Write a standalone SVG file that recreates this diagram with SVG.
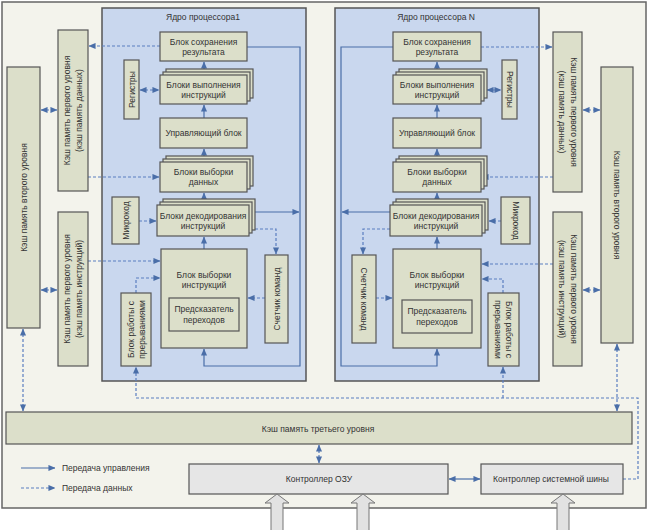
<svg xmlns="http://www.w3.org/2000/svg" width="650" height="530" viewBox="0 0 650 530">
<defs>
<marker id="a" viewBox="0 0 8 8" refX="7.5" refY="4" markerWidth="7" markerHeight="7" markerUnits="userSpaceOnUse" orient="auto-start-reverse"><path d="M0,0.5 L8,4 L0,7.5 z" fill="#4a6ea8"/></marker>
<style>
.blk{fill:#dcdfca;stroke:#555;stroke-width:1.2}
.gry{fill:#e6e6e6;stroke:#555;stroke-width:1.2}
.core{fill:#c9d7ee;stroke:#555;stroke-width:1.5}
.t{font-family:"Liberation Sans",Arial,sans-serif;font-size:8.5px;fill:#333;text-anchor:middle;dominant-baseline:central}
.l{text-anchor:start}
.s{stroke:#4a6ea8;stroke-width:1.2;fill:none}
.d{stroke:#5a7ec0;stroke-width:1.2;fill:none;stroke-dasharray:3 2}
.ba{fill:#e2e2e2;stroke:#777;stroke-width:1}
</style>
</defs>
<rect x="2" y="2" width="644" height="506" fill="#f3f3ec" stroke="#666" stroke-width="1.5"/>

<g id="core1">
<rect class="core" x="102" y="8" width="204" height="373"/>
<text class="t" x="203" y="17">Ядро процессора1</text>
</g>
<g id="coreN">
<rect class="core" x="335" y="8" width="204" height="373"/>
<text class="t" x="436" y="17">Ядро процессора N</text>
</g>

<g id="connectors">
<!-- core 1 solid -->
<path class="s" d="M204,249 V237" marker-end="url(#a)"/>
<path class="s" d="M204,199 V193" marker-end="url(#a)"/>
<path class="s" d="M204,156 V149" marker-end="url(#a)"/>
<path class="s" d="M204,118 V105" marker-end="url(#a)"/>
<path class="s" d="M204,69 V62" marker-end="url(#a)"/>
<path class="s" d="M247,47 H300 V366 H204 V349" marker-end="url(#a)"/>
<path class="s" d="M255,212 H299" marker-end="url(#a)"/>
<!-- core 1 dashed -->
<path class="d" d="M255,229 H276 V254" marker-end="url(#a)"/>
<path class="d" d="M265,298 H248" marker-end="url(#a)"/>
<path class="d" d="M139,221 H156" marker-end="url(#a)"/>
<path class="d" d="M140,90 H159" marker-start="url(#a)" marker-end="url(#a)"/>
<path class="d" d="M160,46 H89" marker-end="url(#a)"/>
<path class="d" d="M88,177 H159" marker-end="url(#a)"/>
<path class="d" d="M88,261 H160" marker-end="url(#a)"/>
<path class="d" d="M136,293 V278 H160" marker-end="url(#a)"/>
<path class="d" d="M41,110 H57" marker-start="url(#a)" marker-end="url(#a)"/>
<path class="d" d="M41,290 H57" marker-start="url(#a)" marker-end="url(#a)"/>
<path class="d" d="M23,329 V411" marker-start="url(#a)" marker-end="url(#a)"/>
<!-- core N solid -->
<path class="s" d="M437,249 V237" marker-end="url(#a)"/>
<path class="s" d="M437,199 V193" marker-end="url(#a)"/>
<path class="s" d="M437,156 V149" marker-end="url(#a)"/>
<path class="s" d="M437,118 V105" marker-end="url(#a)"/>
<path class="s" d="M437,69 V62" marker-end="url(#a)"/>
<path class="s" d="M393,47 H341 V366 H437 V349" marker-end="url(#a)"/>
<path class="s" d="M390,212 H342" marker-end="url(#a)"/>
<!-- core N dashed -->
<path class="d" d="M390,229 H363 V254" marker-end="url(#a)"/>
<path class="d" d="M376,298 H392" marker-end="url(#a)"/>
<path class="d" d="M501,221 H489" marker-end="url(#a)"/>
<path class="d" d="M487,90 H501" marker-start="url(#a)" marker-end="url(#a)"/>
<path class="d" d="M481,47 H552" marker-end="url(#a)"/>
<path class="d" d="M553,177 H482" marker-end="url(#a)"/>
<path class="d" d="M553,264 H482" marker-end="url(#a)"/>
<path class="d" d="M503,293 V279 H482" marker-end="url(#a)"/>
<path class="d" d="M583,110 H600" marker-start="url(#a)" marker-end="url(#a)"/>
<path class="d" d="M583,290 H600" marker-start="url(#a)" marker-end="url(#a)"/>
<path class="d" d="M617,344 V411" marker-start="url(#a)" marker-end="url(#a)"/>
<!-- interrupts bus -->
<path class="d" d="M623,479 H638 V398 H136 V367" marker-end="url(#a)"/>
<path class="d" d="M503,398 V367" marker-end="url(#a)"/>
<!-- bottom -->
<path class="d" d="M319,445 V463" marker-start="url(#a)" marker-end="url(#a)"/>
<path class="s" d="M449,479 H480" marker-start="url(#a)" marker-end="url(#a)"/>
</g>

<!-- core 1 nodes -->
<g id="save1"><rect class="blk" x="160" y="32" width="87" height="29"/><text class="t" x="203.5" y="42">Блок сохранения</text><text class="t" x="203.5" y="52">результата</text></g>
<g id="exec1"><rect class="blk" x="166" y="69" width="87" height="29"/><rect class="blk" x="163" y="72" width="87" height="29"/><rect class="blk" x="160" y="75" width="87" height="29"/><text class="t" x="203.5" y="85">Блоки выполнения</text><text class="t" x="203.5" y="95">инструкций</text></g>
<g id="reg1"><rect class="blk" x="124" y="60" width="15" height="59"/><text class="t" transform="translate(131.5,89.5) rotate(-90)">Регистры</text></g>
<g id="ctrl1"><rect class="blk" x="160" y="118" width="87" height="30"/><text class="t" x="203.5" y="133">Управляющий блок</text></g>
<g id="dsel1"><rect class="blk" x="166" y="156" width="87" height="30"/><rect class="blk" x="163" y="159" width="87" height="30"/><rect class="blk" x="160" y="162" width="87" height="30"/><text class="t" x="203.5" y="172">Блоки выборки</text><text class="t" x="203.5" y="182">данных</text></g>
<g id="dec1"><rect class="blk" x="163" y="199" width="92" height="31"/><rect class="blk" x="160" y="202" width="92" height="31"/><rect class="blk" x="157" y="205" width="92" height="31"/><text class="t" x="203" y="215.5">Блоки декодирования</text><text class="t" x="203" y="226">инструкций</text></g>
<g id="micro1"><rect class="blk" x="112" y="197" width="27" height="47"/><text class="t" transform="translate(125.5,220.5) rotate(-90)">Микрокод</text></g>
<g id="isel1"><rect class="blk" x="161" y="249" width="86" height="99"/><text class="t" x="204" y="275">Блок выборки</text><text class="t" x="204" y="285">инструкций</text></g>
<g id="pred1"><rect class="blk" x="169" y="298" width="70" height="33"/><text class="t" x="204" y="309">Предсказатель</text><text class="t" x="204" y="320">переходов</text></g>
<g id="cnt1"><rect class="blk" x="265" y="255" width="23" height="88"/><text class="t" transform="translate(276.5,299) rotate(-90)">Счетчик команд</text></g>
<g id="int1"><rect class="blk" x="121" y="293" width="30" height="73"/><text class="t" transform="translate(136,329.5) rotate(-90)"><tspan x="0" y="-5.5">Блок работы с</tspan><tspan x="0" y="5.5">прерываниями</tspan></text></g>

<!-- core N nodes -->
<g id="saveN"><rect class="blk" x="393" y="32" width="88" height="29"/><text class="t" x="437" y="42">Блок сохранения</text><text class="t" x="437" y="52">результата</text></g>
<g id="execN"><rect class="blk" x="399" y="69" width="88" height="29"/><rect class="blk" x="396" y="72" width="88" height="29"/><rect class="blk" x="393" y="75" width="88" height="29"/><text class="t" x="437" y="85">Блоки выполнения</text><text class="t" x="437" y="95">инструкций</text></g>
<g id="regN"><rect class="blk" x="502" y="60" width="15" height="59"/><text class="t" transform="translate(509.5,89.5) rotate(90)">Регистры</text></g>
<g id="ctrlN"><rect class="blk" x="393" y="118" width="88" height="30"/><text class="t" x="437" y="133">Управляющий блок</text></g>
<g id="dselN"><rect class="blk" x="399" y="156" width="88" height="30"/><rect class="blk" x="396" y="159" width="88" height="30"/><rect class="blk" x="393" y="162" width="88" height="30"/><text class="t" x="437" y="172">Блоки выборки</text><text class="t" x="437" y="182">данных</text></g>
<g id="decN"><rect class="blk" x="396" y="199" width="92" height="31"/><rect class="blk" x="393" y="202" width="92" height="31"/><rect class="blk" x="390" y="205" width="92" height="31"/><text class="t" x="436" y="215.5">Блоки декодирования</text><text class="t" x="436" y="226">инструкций</text></g>
<g id="microN"><rect class="blk" x="501" y="197" width="29" height="47"/><text class="t" transform="translate(515.5,220.5) rotate(90)">Микрокод</text></g>
<g id="iselN"><rect class="blk" x="393" y="249" width="88" height="99"/><text class="t" x="437" y="275">Блок выборки</text><text class="t" x="437" y="285">инструкций</text></g>
<g id="predN"><rect class="blk" x="402" y="300" width="70" height="33"/><text class="t" x="437" y="311">Предсказатель</text><text class="t" x="437" y="322">переходов</text></g>
<g id="cntN"><rect class="blk" x="352" y="255" width="24" height="88"/><text class="t" transform="translate(364,299) rotate(90)">Счетчик команд</text></g>
<g id="intN"><rect class="blk" x="488" y="293" width="31" height="73"/><text class="t" transform="translate(503.5,329.5) rotate(90)"><tspan x="0" y="-5.5">Блок работы с</tspan><tspan x="0" y="5.5">прерываниями</tspan></text></g>

<!-- caches -->
<g id="l2left"><rect class="blk" x="7" y="67" width="33" height="261"/><text class="t" transform="translate(23.5,197.5) rotate(-90)">Кэш память второго уровня</text></g>
<g id="l1dleft"><rect class="blk" x="58" y="30" width="30" height="161"/><text class="t" transform="translate(73,110.5) rotate(-90)"><tspan x="0" y="-6">Кэш память первого уровня</tspan><tspan x="0" y="6">(кэш память данных)</tspan></text></g>
<g id="l1ileft"><rect class="blk" x="58" y="212" width="30" height="154"/><text class="t" transform="translate(73,289) rotate(-90)"><tspan x="0" y="-6">Кэш память первого уровня</tspan><tspan x="0" y="6">(кэш память инструкций)</tspan></text></g>
<g id="l1dright"><rect class="blk" x="553" y="32" width="29" height="160"/><text class="t" transform="translate(567.5,112) rotate(90)"><tspan x="0" y="-6">Кэш память первого уровня</tspan><tspan x="0" y="6">(кэш память данных)</tspan></text></g>
<g id="l2right"><rect class="blk" x="601" y="67" width="32" height="276"/><text class="t" transform="translate(617,205) rotate(90)">Кэш память второго уровня</text></g>
<g id="l1iright"><rect class="blk" x="553" y="212" width="29" height="154"/><text class="t" transform="translate(567.5,289) rotate(90)"><tspan x="0" y="-6">Кэш память первого уровня</tspan><tspan x="0" y="6">(кэш память инструкций)</tspan></text></g>

<g id="l3"><rect class="blk" x="6" y="412" width="626" height="32"/><text class="t" x="318" y="429">Кэш память третьего уровня</text></g>
<g id="ram"><rect class="gry" x="189" y="464" width="259" height="30"/><text class="t" x="319" y="479">Контроллер ОЗУ</text></g>
<g id="bus"><rect class="gry" x="481" y="464" width="142" height="30"/><text class="t" x="551" y="479">Контроллер системной шины</text></g>

<g id="inputs">
<path class="ba" d="M277,494 L289,503 L283,503 L283,531 L271,531 L271,503 L265,503 z"/>
<path class="ba" d="M363,494 L375,503 L369,503 L369,531 L357,531 L357,503 L351,503 z"/>
<path class="ba" d="M563,494 L575,503 L569,503 L569,531 L557,531 L557,503 L551,503 z"/>
</g>

<g id="legend">
<path class="s" d="M21,468 H55" marker-end="url(#a)"/>
<text class="t l" x="62" y="468">Передача управления</text>
<path class="d" d="M21,488 H55" marker-end="url(#a)"/>
<text class="t l" x="62" y="488">Передача данных</text>
</g>
</svg>
